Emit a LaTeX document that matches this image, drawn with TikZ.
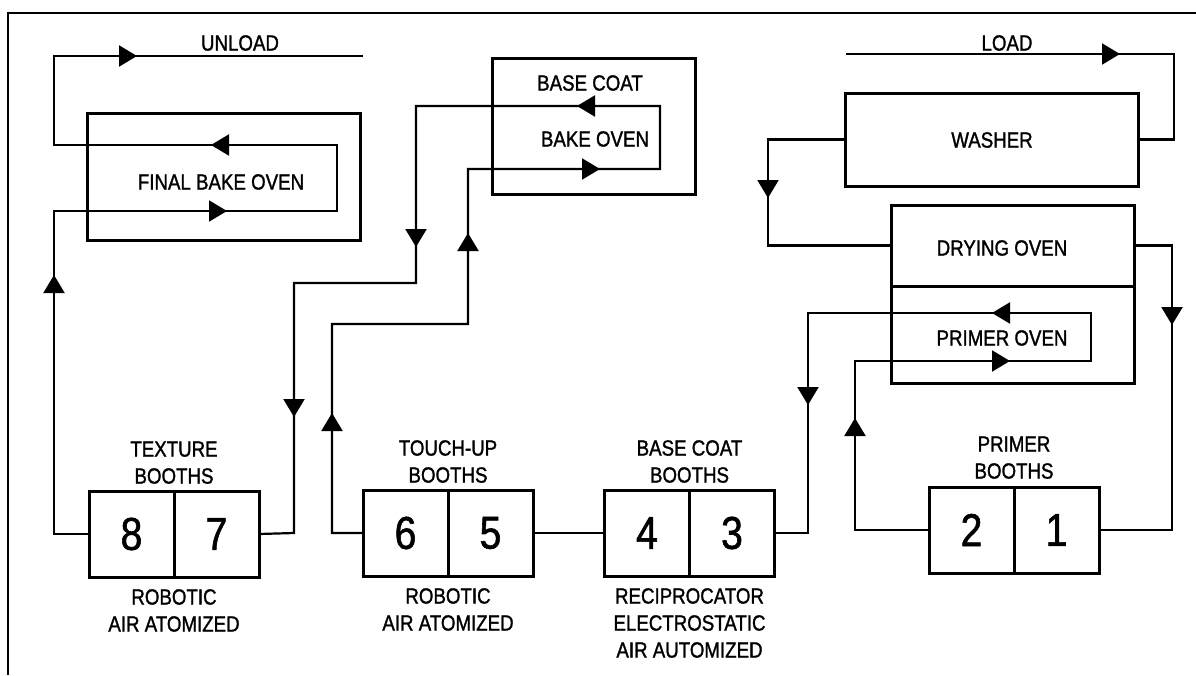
\documentclass[tikz,border=0pt]{standalone}
\usepackage{fontspec}
\setmainfont{Liberation Sans}[FakeStretch=0.85,FakeBold=1.3]
\usepackage{tikz}
\usetikzlibrary{arrows.meta,positioning}

\begin{document}
\begin{tikzpicture}[x=1pt,y=-1pt,
  lbl/.style={inner sep=0pt,align=center,font=\fontsize{22}{27}\selectfont},
  oven/.style={draw,line width=3pt,outer sep=0pt,inner sep=0pt},
  booth/.style={draw,line width=3pt,outer sep=0pt,inner sep=0pt,
    minimum width=85pt,minimum height=86pt,font=\fontsize{46}{46}\selectfont},
  flow/.style={line width=2.2pt},
  flowtip/.style={line width=2.2pt,-{Triangle[width=21pt,length=18pt]}}]
\useasboundingbox (0,0) rectangle (1196,675);

% Frame
\draw[line width=2pt] (8,675) -- (8,13) -- (1196,13);

% Ovens and washer
\node[oven,minimum width=273pt,minimum height=127pt] (fbOven) at (223.5,176.5) {};
\node[oven,minimum width=203pt,minimum height=136pt] (bcOven) at (593.5,126) {};
\node[oven,minimum width=293pt,minimum height=93pt] (washer) at (991.5,139.5) {};
\node[oven,minimum width=243pt,minimum height=81pt] (dryOven) at (1012.5,245.5) {};
\node[oven,minimum width=243pt,minimum height=97pt] (primOven) at (1012.5,334.5) {};

\node[lbl] (fbText) at (221,182) {FINAL BAKE OVEN};
\node[lbl] (bcText1) at (590,83) {BASE COAT};
\node[lbl] (bcText2) at (595,139) {BAKE OVEN};
\node[lbl] (washText) at (992,140) {WASHER};
\node[lbl] (dryText) at (1002,248) {DRYING OVEN};
\node[lbl] (primText) at (1002,338) {PRIMER OVEN};
\node[lbl] (unloadText) at (240,43) {UNLOAD};
\node[lbl] (loadText) at (1007,43) {LOAD};

% Booths
\node[booth] (b8) at (131.5,534) {8};
\node[booth,right=0pt of b8] (b7) {7};
\node[booth] (b6) at (405.5,533) {6};
\node[booth,right=0pt of b6] (b5) {5};
\node[booth] (b4) at (647,533) {4};
\node[booth,right=0pt of b4] (b3) {3};
\node[booth] (b2) at (971.5,530) {2};
\node[booth,right=0pt of b2] (b1) {1};

\node[lbl,above=7pt of b8.north east] (texTop) {TEXTURE\\BOOTHS};
\node[lbl,below=12pt of b8.south east] (texBot) {ROBOTIC\\AIR ATOMIZED};
\node[lbl,above=7pt of b6.north east] (tuTop) {TOUCH-UP\\BOOTHS};
\node[lbl,below=12pt of b6.south east] (tuBot) {ROBOTIC\\AIR ATOMIZED};
\node[lbl,above=7pt of b4.north east] (bcTop) {BASE COAT\\BOOTHS};
\node[lbl,below=12pt of b4.south east] (bcBot) {RECIPROCATOR\\ELECTROSTATIC\\AIR AUTOMIZED};
\node[lbl,above=8pt of b2.north east] (prTop) {PRIMER\\BOOTHS};

% Conveyor
\coordinate (loadIn) at (846,54);
\coordinate (unloadOut) at (363,56);
\draw[flow] (loadIn) -| (1174,139.5) -- (washer.east);
\draw[flow] (washer.west) -| (768,245.5) -- (dryOven.west);
\draw[flow] (dryOven.east) -| (1172,530) -- (b1.east);
\draw[flow] (b2.west) -| (855,361) -- (1091,361) -- (1091,313) -- (808,313) |- (b3.east);
\draw[flow] (b4.west) -- (b5.east);
\draw[flow] (b6.west) -| (332,324) -| (468,169) -| (660,106) -| (416,283) -| (294,533) -- (b7.east);
\draw[flow] (b8.west) -| (54,211) -| (337,145) -| (54,56) -- (unloadOut);

% Direction arrows
\draw[flowtip] (1100,54) -- (1120,54);
\draw[flowtip] (768,178) -- (768,198);
\draw[flowtip] (1172,305) -- (1172,325);
\draw[flowtip] (855,438) -- (855,418);
\draw[flowtip] (990,361) -- (1010,361);
\draw[flowtip] (1012,313) -- (992,313);
\draw[flowtip] (808,385) -- (808,405);
\draw[flowtip] (332,433) -- (332,413);
\draw[flowtip] (468,253) -- (468,233);
\draw[flowtip] (580,169) -- (600,169);
\draw[flowtip] (597,106) -- (577,106);
\draw[flowtip] (416,227) -- (416,247);
\draw[flowtip] (294,397) -- (294,417);
\draw[flowtip] (54,295) -- (54,275);
\draw[flowtip] (207,211) -- (227,211);
\draw[flowtip] (231,145) -- (211,145);
\draw[flowtip] (117,56) -- (137,56);
\end{tikzpicture}
\end{document}
